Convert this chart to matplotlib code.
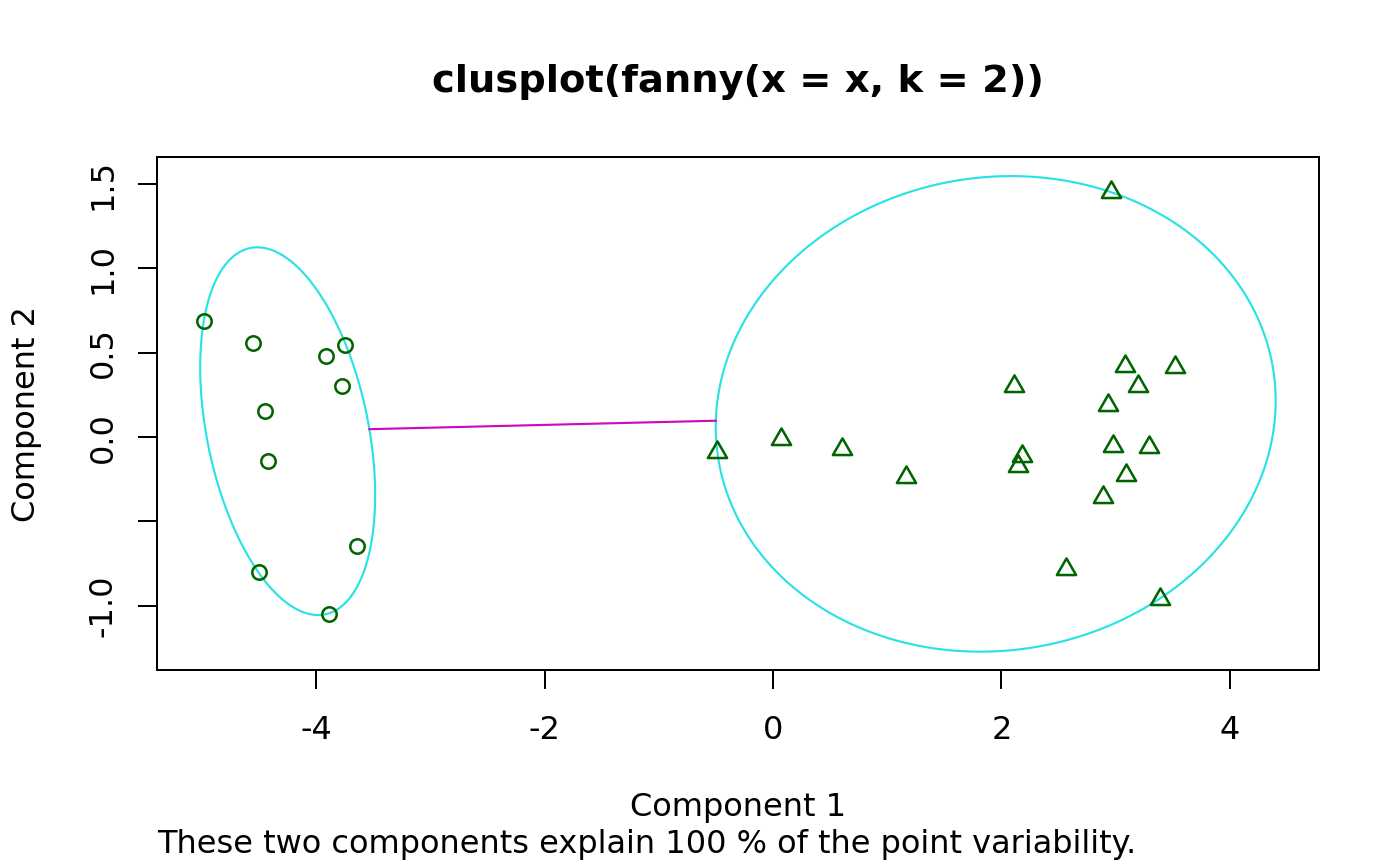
import numpy as np
import matplotlib
matplotlib.use('Agg')
import matplotlib.pyplot as plt
from matplotlib.path import Path
from matplotlib.patches import Polygon

# cluster 1 (circles) and cluster 2 (triangles), coordinates on the two components
circle_x = [-4.988, -4.559, -3.914, -3.745, -3.777, -4.451, -4.419, -3.640, -4.504, -3.885]
circle_y = [0.686, 0.556, 0.481, 0.546, 0.300, 0.156, -0.141, -0.647, -0.797, -1.051]

tri_x = [-0.493, 0.073, 0.604, 1.162, 2.957, 3.082, 3.523, 3.199, 2.107,
         2.931, 2.975, 3.296, 2.183, 2.148, 3.094, 2.887, 2.563, 3.392]
tri_y = [-0.087, -0.012, -0.071, -0.234, 1.450, 0.421, 0.415, 0.300, 0.302,
         0.190, -0.053, -0.061, -0.113, -0.174, -0.226, -0.356, -0.783, -0.961]

# spanning ellipses: centre and shape matrix
ell1_center = [-4.251, 0.035]
ell1_shape = [[0.587, -0.29], [-0.29, 1.188]]
ell2_center = [1.95, 0.1375]
ell2_shape = [[6.012, 0.19], [0.19, 1.987]]

x_ticks = [-4, -2, 0, 2, 4]
x_ticklabels = ['-4', '-2', '0', '2', '4']
y_ticks = [-1.0, -0.5, 0.0, 0.5, 1.0, 1.5]
y_ticklabels = ['-1.0', '', '0.0', '0.5', '1.0', '1.5']

title = 'clusplot(fanny(x = x, k = 2))'
xlab = 'Component 1'
ylab = 'Component 2'
sub = 'These two components explain 100 % of the point variability.'

CYAN = '#28E2E5'
MAGENTA = '#CD0BBC'
GREEN = '#006400'


def ellipse(center, shape, n=400):
    t = np.linspace(0, 2 * np.pi, n, endpoint=False)
    L = np.linalg.cholesky(np.array(shape))
    p = L @ np.vstack([np.cos(t), np.sin(t)])
    return np.column_stack([center[0] + p[0], center[1] + p[1]])


def edge(center, shape, target):
    # point where the segment centre -> target leaves the ellipse
    c = np.array(center)
    d = np.array(target) - c
    k = d @ np.linalg.inv(np.array(shape)) @ d
    return c + d / np.sqrt(k)


DPI = 192
W, H = 1400, 866
fig = plt.figure(figsize=(W / DPI, H / DPI), dpi=DPI)
left, right, top, bottom = 157.4, 1319.4, 157.4, 670.2
ax = fig.add_axes([left / W, 1 - bottom / H, (right - left) / W, (bottom - top) / H])

for c, s in [(ell1_center, ell1_shape), (ell2_center, ell2_shape)]:
    ax.add_patch(Polygon(ellipse(c, s), closed=True, fill=False, edgecolor=CYAN, lw=0.8))

p1 = edge(ell1_center, ell1_shape, ell2_center)
p2 = edge(ell2_center, ell2_shape, ell1_center)
ax.plot([p1[0], p2[0]], [p1[1], p2[1]], color=MAGENTA, lw=0.8)

ax.plot(circle_x, circle_y, 'o', ms=5.4, mfc='none', mec=GREEN, mew=0.95, ls='none')
tri = Path([(0, 1), (0.866, -0.5), (-0.866, -0.5), (0, 1)],
           [Path.MOVETO, Path.LINETO, Path.LINETO, Path.CLOSEPOLY])
ax.plot(tri_x, tri_y, marker=tri, ms=8.3, mfc='none', mec=GREEN, mew=0.95, ls='none')

ax.set_xlim(-5.392, 4.785)
ax.set_ylim(-1.382, 1.658)
ax.set_xticks(x_ticks)
ax.set_xticklabels(x_ticklabels)
ax.set_yticks(y_ticks)
ax.set_yticklabels(y_ticklabels, rotation=90, va='center')
ax.tick_params(axis='both', length=7.2, width=0.75, labelsize=12, color='black')
ax.tick_params(axis='x', pad=9.5)
ax.tick_params(axis='y', pad=7.3)
for s in ax.spines.values():
    s.set_linewidth(0.75)

cx = (left + right) / 2 / W
fig.text(cx, 1 - 92 / H, title, ha='center', va='baseline', fontsize=14.4, fontweight='bold')
fig.text(cx, 1 - 816 / H, xlab, ha='center', va='baseline', fontsize=12)
fig.text(left / W, 1 - 853 / H, sub, ha='left', va='baseline', fontsize=12)
fig.text(35.5 / W, 1 - (top + bottom) / 2 / H, ylab, ha='center', va='baseline',
         rotation=90, rotation_mode='anchor', fontsize=12)

fig.savefig('out.png', dpi=DPI)
